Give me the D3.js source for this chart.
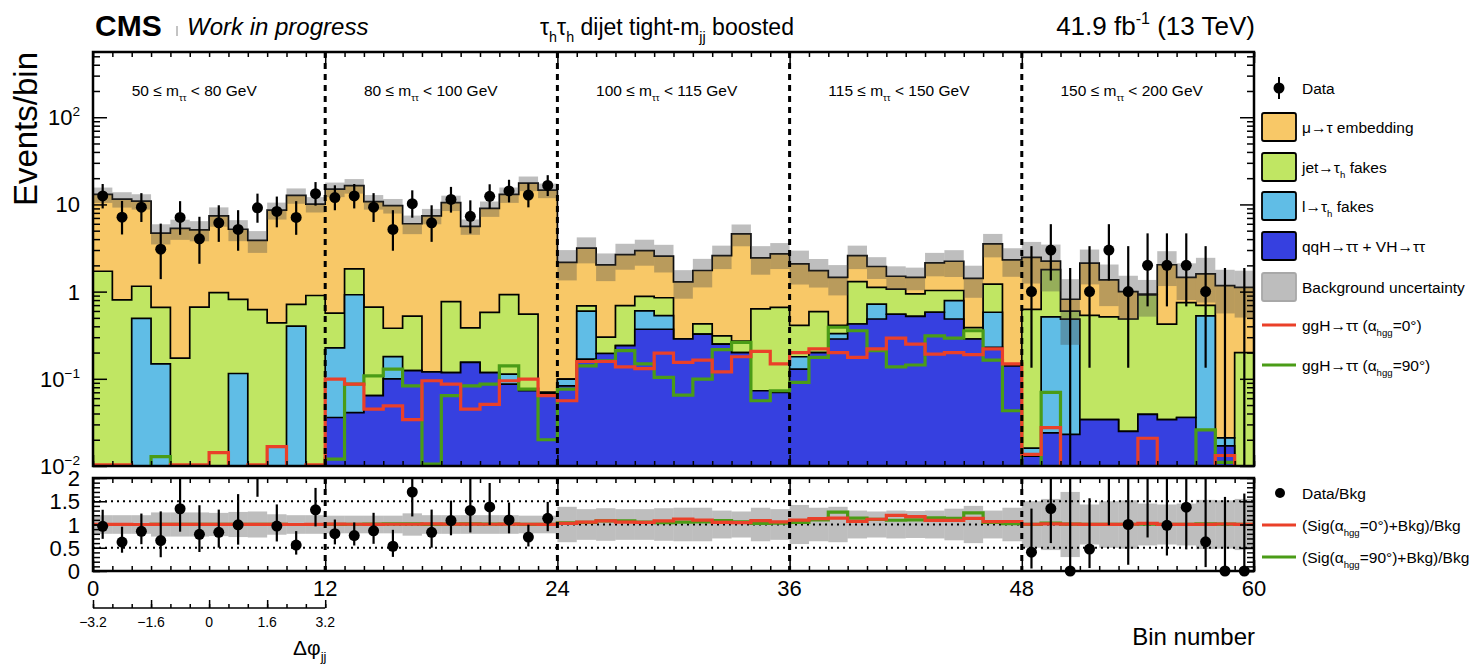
<!DOCTYPE html>
<html>
<head>
<meta charset="utf-8" />
<title>tau_h tau_h dijet tight-mjj boosted</title>
<style>
  body { margin: 0; background: #fff; }
  svg text { font-family: "Liberation Sans", Arial, Helvetica, sans-serif; fill: #000; }
</style>
</head>
<body>
<svg id="chart" width="1473" height="664"></svg>
<script src="https://d3js.org/d3.v7.min.js"></script>
<script>
//------------------------------------------------ data (60 bins) ------------------------------------------------//
var regionLabels = [["50", "80"], ["80", "100"], ["100", "115"], ["115", "150"], ["150", "200"]];
var xTickLabels = [0, 12, 24, 36, 48, 60];
var dphiLabels = ["\u22123.2", "\u22121.6", "0", "1.6", "3.2"];

var qqH = [0.003, 0.003, 0.003, 0.003, 0.003, 0.003, 0.003, 0.003, 0.003, 0.003, 0.003, 0.003,
  0.036, 0.041, 0.064, 0.10, 0.124, 0.12, 0.118, 0.154, 0.118, 0.087, 0.073, 0.067,
  0.083, 0.168, 0.195, 0.24, 0.37, 0.37, 0.286, 0.326, 0.25, 0.20, 0.073, 0.07,
  0.129, 0.20, 0.286, 0.425, 0.485, 0.55, 0.52, 0.58, 0.485, 0.286, 0.23, 0.141,
  0.013, 0.024, 0.023, 0.034, 0.034, 0.025, 0.039, 0.034, 0.036, 0.026, 0.017, 0.005];

var lFakes = [0, 0, 0.49, 0.145, 0, 0, 0, 0.112, 0, 0.014, 0.40, 0,
  0.19, 0.88, 0, 0.08, 0, 0, 0, 0, 0, 0.026, 0, 0.003,
  0.016, 0.43, 0, 0, 0.23, 0.16, 0, 0, 0, 0, 0, 0,
  0.05, 0, 0.044, 0, 0.235, 0, 0, 0, 0.305, 0, 0.35, 0,
  0.003, 0.49, 0.46, 0, 0, 0, 0, 0, 0, 0.50, 0.004, 0];

var jetFakes = [1.71, 0.80, 0.66, 0.51, 0.17, 0.66, 0.97, 0.70, 0.62, 0.42, 0.31, 0.90,
  0.34, 0.90, 0.60, 0.20, 0.40, 0, 0.65, 0.23, 0.46, 0.81, 0.48, 0,
  0, 0.09, 0.105, 0.45, 0.28, 0.32, 0, 0.10, 0.06, 0.07, 0.56, 0.59,
  0.23, 0.39, 0.08, 0.875, 0.40, 0.52, 0.42, 0.45, 0.24, 0.10, 0.64, 0,
  0.61, 1.27, 0.115, 0.50, 0.48, 0.46, 0.88, 0.39, 0.71, 0.17, 0, 0.195];

var embedding = [11.3, 10.7, 9.75, 4.04, 5.13, 4.44, 6.43, 4.38, 3.24, 8.16, 12.0, 9.2,
  14.4, 14.6, 10.1, 9.32, 5.48, 7.28, 9.73, 5.22, 8.42, 12.1, 17.0, 14.5,
  2.07, 2.46, 1.73, 1.97, 2.08, 1.70, 1.01, 1.32, 2.28, 4.33, 1.81, 2.05,
  1.67, 1.15, 1.05, 1.29, 0.82, 0.43, 0.52, 1.11, 1.20, 1.03, 2.31, 2.17,
  1.85, 0.45, 0.22, 1.59, 0.85, 0.515, 0.02, 1.61, 0.71, 0.90, 1.15, 0.92];

// relative background uncertainty per bin
var bkgUnc = [0.2, 0.2, 0.2, 0.26, 0.26, 0.26, 0.25, 0.27, 0.28, 0.22, 0.2, 0.2,
  0.19, 0.19, 0.19, 0.19, 0.24, 0.2, 0.2, 0.2, 0.2, 0.2, 0.19, 0.19,
  0.38, 0.33, 0.35, 0.33, 0.33, 0.35, 0.36, 0.36, 0.3, 0.28, 0.36, 0.33,
  0.42, 0.36, 0.38, 0.3, 0.28, 0.3, 0.29, 0.3, 0.34, 0.4, 0.3, 0.36,
  0.5, 0.55, 0.7, 0.43, 0.5, 0.52, 0.45, 0.43, 0.45, 0.53, 0.52, 0.55];

var ggH0 = [0.0103, 0.0103, 0.005, 0.005, 0.0103, 0.0103, 0.0142, 0.005, 0.0103, 0.0167, 0.005, 0.0103,
  0.099, 0.087, 0.045, 0.049, 0.034, 0.095, 0.087, 0.045, 0.051, 0.095, 0.099, 0.064,
  0.056, 0.158, 0.158, 0.137, 0.131, 0.197, 0.154, 0.164, 0.12, 0.179, 0.206, 0.148,
  0.20, 0.22, 0.20, 0.176, 0.22, 0.293, 0.25, 0.192, 0.20, 0.189, 0.22, 0.148,
  0.0136, 0.0276, 0.005, 0.005, 0.005, 0.005, 0.0208, 0.005, 0.005, 0.005, 0.0132, 0.005];

var ggH90 = [0.005, 0.005, 0.005, 0.0128, 0.005, 0.005, 0.005, 0.005, 0.005, 0.005, 0.005, 0.005,
  0.012, 0.087, 0.108, 0.129, 0.083, 0.0105, 0.064, 0.083, 0.087, 0.141, 0.076, 0.020,
  0.076, 0.141, 0.161, 0.21, 0.148, 0.104, 0.065, 0.099, 0.216, 0.262, 0.056, 0.073,
  0.091, 0.176, 0.39, 0.356, 0.21, 0.137, 0.144, 0.31, 0.293, 0.356, 0.164, 0.043,
  0.005, 0.07, 0.005, 0.005, 0.005, 0.005, 0.005, 0.005, 0.005, 0.026, 0.011, 0.005];

// observed events (bins 24-47 blinded)
var dataObs = [12.5, 7.15, 9.3, 3.07, 7.1, 4.03, 6.15, 5.16, 9.15, 8.3, 7.1, 13.3,
  12, 12.5, 9.3, 5.16, 10.2, 6.15, 11.4, 7.3, 12.4, 14.3, 12.8, 16.5,
  null, null, null, null, null, null, null, null, null, null, null, null,
  null, null, null, null, null, null, null, null, null, null, null, null,
  1, 3, 0, 1, 3, 1, 2, 2, 2, 1, 0, 0];

//------------------------------------------------ setup ------------------------------------------------//
var colors = {
  embedding: "#f8c867",
  jetFakes: "#c0e663",
  lFakes: "#60bde6",
  qqH: "#3640e0",
  ggH0: "#ea4029",
  ggH90: "#4a9c17",
  band: "rgba(74,74,74,0.36)"
};

var svg = d3.select("#chart");
var x = d3.scaleLinear().domain([0, 60]).range([93, 1254]);
var y = d3.scaleLog().domain([0.01, 560]).range([466, 52]);
var yr = d3.scaleLinear().domain([0, 2]).range([571, 478]);
var bins = d3.range(60);

var rows = bins.map(function(i) {
  return {qqH: qqH[i], lFakes: lFakes[i], jetFakes: jetFakes[i], embedding: embedding[i]};
});
var keys = ["qqH", "lFakes", "jetFakes", "embedding"];
var series = d3.stack().keys(keys)(rows);
var total = bins.map(function(i) { return series[3][i][1]; });

function steps(vals) {
  var pts = [];
  vals.forEach(function(v, i) { pts.push([i, v]); pts.push([i + 1, v]); });
  return pts;
}
function ly(v) { return y(Math.max(v, 1e-5)); }

var defs = svg.append("defs");
defs.append("clipPath").attr("id", "clipMain").append("rect")
  .attr("x", x(0)).attr("y", y.range()[1]).attr("width", x(60) - x(0)).attr("height", y.range()[0] - y.range()[1]);
defs.append("clipPath").attr("id", "clipRatio").append("rect")
  .attr("x", x(0)).attr("y", yr(2)).attr("width", x(60) - x(0)).attr("height", yr(0) - yr(2));
defs.append("clipPath").attr("id", "clipRatioPts").append("rect")
  .attr("x", x(0)).attr("y", yr(2)).attr("width", x(60) - x(0)).attr("height", yr(0) - yr(2) + 8);

// rich text helper: parts = [[text, mode]] mode 0 normal, 1 sub, 2 sup
function rich(t, parts, size) {
  var cur = 0;
  parts.forEach(function(p) {
    var shift = p[1] === 1 ? 0.3 : (p[1] === 2 ? -0.42 : 0);
    var ts = t.append("tspan").text(p[0]).attr("dy", ((shift - cur) * size).toFixed(1));
    if (p[1]) ts.attr("font-size", (size * 0.62).toFixed(1));
    cur = shift;
  });
  return t;
}

//------------------------------------------------ main panel ------------------------------------------------//
var main = svg.append("g").attr("clip-path", "url(#clipMain)");
var area = d3.area().x(function(d) { return x(d[0]); })
  .y0(y.range()[0] + 6).y1(function(d) { return ly(d[1]); });

// stacked histograms, drawn from total down
for (var k = 3; k >= 0; k--) {
  main.append("path")
    .attr("d", area(steps(series[k].map(function(s) { return s[1]; }))))
    .attr("fill", colors[keys[k]])
    .attr("stroke", "#000").attr("stroke-width", 1.7);
}

// background uncertainty band
main.selectAll(".unc").data(bins).enter().append("rect")
  .attr("x", function(i) { return x(i); })
  .attr("width", x(1) - x(0))
  .attr("y", function(i) { return ly(total[i] * (1 + bkgUnc[i])); })
  .attr("height", function(i) { return ly(total[i] * (1 - bkgUnc[i])) - ly(total[i] * (1 + bkgUnc[i])); })
  .attr("fill", colors.band);

var line = d3.line().x(function(d) { return x(d[0]); }).y(function(d) { return ly(d[1]); });
main.append("path").attr("d", line(steps(ggH90))).attr("fill", "none")
  .attr("stroke", colors.ggH90).attr("stroke-width", 3.2);
main.append("path").attr("d", line(steps(ggH0))).attr("fill", "none")
  .attr("stroke", colors.ggH0).attr("stroke-width", 3.2);

// data points with Poisson intervals
function errLo(n) { return n >= 1 ? n - Math.sqrt(n - 0.25) : 0; }
function errHi(n) { return n + 1 + Math.sqrt(n + 0.75); }
var dataBins = bins.filter(function(i) { return dataObs[i] !== null; });

main.selectAll(".derr").data(dataBins).enter().append("line")
  .attr("x1", function(i) { return x(i + 0.5); }).attr("x2", function(i) { return x(i + 0.5); })
  .attr("y1", function(i) { return ly(errLo(dataObs[i])); })
  .attr("y2", function(i) { return ly(errHi(dataObs[i])); })
  .attr("stroke", "#000").attr("stroke-width", 2.2);
main.selectAll(".dpt").data(dataBins.filter(function(i) { return dataObs[i] > 0; })).enter().append("circle")
  .attr("cx", function(i) { return x(i + 0.5); })
  .attr("cy", function(i) { return ly(dataObs[i]); })
  .attr("r", 5.5).attr("fill", "#000");

//------------------------------------------------ ratio panel ------------------------------------------------//
var ratio = svg.append("g").attr("clip-path", "url(#clipRatio)");
ratio.selectAll(".runc").data(bins).enter().append("rect")
  .attr("x", function(i) { return x(i); })
  .attr("width", x(1) - x(0))
  .attr("y", function(i) { return yr(1 + bkgUnc[i]); })
  .attr("height", function(i) { return yr(1 - bkgUnc[i]) - yr(1 + bkgUnc[i]); })
  .attr("fill", colors.band);

[0.5, 1, 1.5].forEach(function(v) {
  ratio.append("line").attr("x1", x(0)).attr("x2", x(60))
    .attr("y1", yr(v)).attr("y2", yr(v))
    .attr("stroke", "#000").attr("stroke-width", 2).attr("stroke-dasharray", "2,4");
});

var rline = d3.line().x(function(d) { return x(d[0]); }).y(function(d) { return yr(d[1]); });
ratio.append("path").attr("d", rline(steps(bins.map(function(i) { return (ggH90[i] + total[i]) / total[i]; }))))
  .attr("fill", "none").attr("stroke", colors.ggH90).attr("stroke-width", 3.2);
ratio.append("path").attr("d", rline(steps(bins.map(function(i) { return (ggH0[i] + total[i]) / total[i]; }))))
  .attr("fill", "none").attr("stroke", colors.ggH0).attr("stroke-width", 3.2);

var ratioPts = svg.append("g").attr("clip-path", "url(#clipRatioPts)");
ratioPts.selectAll(".rerr").data(dataBins).enter().append("line")
  .attr("x1", function(i) { return x(i + 0.5); }).attr("x2", function(i) { return x(i + 0.5); })
  .attr("y1", function(i) { return yr(errLo(dataObs[i]) / total[i]); })
  .attr("y2", function(i) { return yr(Math.min(errHi(dataObs[i]) / total[i], 2.2)); })
  .attr("stroke", "#000").attr("stroke-width", 2.2);
ratioPts.selectAll(".rpt").data(dataBins.filter(function(i) { return dataObs[i] / total[i] <= 2; })).enter().append("circle")
  .attr("cx", function(i) { return x(i + 0.5); })
  .attr("cy", function(i) { return yr(dataObs[i] / total[i]); })
  .attr("r", 5.5).attr("fill", "#000");

//------------------------------------------------ region separators ------------------------------------------------//
[12, 24, 36, 48].forEach(function(b) {
  [[y.range()[1], y.range()[0]], [yr(2), yr(0)]].forEach(function(r) {
    svg.append("line").attr("x1", x(b)).attr("x2", x(b)).attr("y1", r[0]).attr("y2", r[1])
      .attr("stroke", "#000").attr("stroke-width", 3).attr("stroke-dasharray", "6,5");
  });
});

regionLabels.forEach(function(r, k) {
  rich(svg.append("text").attr("x", x(12 * k + 2)).attr("y", 96).attr("font-size", 15.5),
    [[r[0] + " \u2264 m", 0], ["\u03c4\u03c4", 1], [" < " + r[1] + " GeV", 0]], 15.5);
});

//------------------------------------------------ axes ------------------------------------------------//
function ticks(axis, tx, ty, vals, len) {
  svg.append("g").attr("transform", "translate(" + tx + "," + ty + ")")
    .call(axis.tickValues(vals).tickSize(len).tickFormat(""))
    .call(function(g) { g.select(".domain").remove(); g.selectAll("line").attr("stroke-width", 1.5); });
}
var binEdges = d3.range(0, 61);
var majorX = [0, 12, 24, 36, 48, 60];
ticks(d3.axisTop(x), 0, y.range()[0], binEdges, 5);
ticks(d3.axisTop(x), 0, y.range()[0], majorX, 11);
ticks(d3.axisBottom(x), 0, y.range()[1], binEdges, 5);
ticks(d3.axisBottom(x), 0, y.range()[1], majorX, 11);
ticks(d3.axisTop(x), 0, yr(0), binEdges, 5);
ticks(d3.axisTop(x), 0, yr(0), majorX, 11);
ticks(d3.axisBottom(x), 0, yr(2), binEdges, 5);
ticks(d3.axisBottom(x), 0, yr(2), majorX, 11);

var decades = [0.01, 0.1, 1, 10, 100];
var minorLog = [];
decades.forEach(function(d) { for (var m = 2; m <= 9; m++) if (d * m <= 560) minorLog.push(d * m); });
ticks(d3.axisRight(y), x(0), 0, decades, 14);
ticks(d3.axisRight(y), x(0), 0, minorLog, 7);
ticks(d3.axisLeft(y), x(60), 0, decades, 14);
ticks(d3.axisLeft(y), x(60), 0, minorLog, 7);

var ratioMajor = [0, 0.5, 1, 1.5, 2];
var ratioMinor = d3.range(0, 2.01, 0.1);
ticks(d3.axisRight(yr), x(0), 0, ratioMajor, 14);
ticks(d3.axisRight(yr), x(0), 0, ratioMinor, 7);
ticks(d3.axisLeft(yr), x(60), 0, ratioMajor, 14);
ticks(d3.axisLeft(yr), x(60), 0, ratioMinor, 7);

// frames
svg.append("rect").attr("x", x(0)).attr("y", y.range()[1]).attr("width", x(60) - x(0))
  .attr("height", y.range()[0] - y.range()[1]).attr("fill", "none").attr("stroke", "#000").attr("stroke-width", 2.5);
svg.append("rect").attr("x", x(0)).attr("y", yr(2)).attr("width", x(60) - x(0))
  .attr("height", yr(0) - yr(2)).attr("fill", "none").attr("stroke", "#000").attr("stroke-width", 2.5);

// y labels main
var decadeLabels = [[100, [["10", 0], ["2", 2]]], [10, [["10", 0]]], [1, [["1", 0]]],
  [0.1, [["10", 0], ["\u22121", 2]]], [0.01, [["10", 0], ["\u22122", 2]]]];
decadeLabels.forEach(function(d) {
  rich(svg.append("text").attr("x", 80).attr("y", y(d[0]) + 8).attr("text-anchor", "end").attr("font-size", 22),
    d[1], 22);
});
["0", "0.5", "1", "1.5", "2"].forEach(function(l, i) {
  svg.append("text").attr("x", 80).attr("y", yr(ratioMajor[i]) + 8).attr("text-anchor", "end")
    .attr("font-size", 22).text(l);
});
xTickLabels.forEach(function(v) {
  svg.append("text").attr("x", x(v)).attr("y", 596).attr("text-anchor", "middle").attr("font-size", 22).text(v);
});

svg.append("text").attr("transform", "translate(37,52) rotate(-90)").attr("text-anchor", "end")
  .attr("font-size", 33).text("Events/bin");
svg.append("text").attr("x", 1255).attr("y", 645).attr("text-anchor", "end").attr("font-size", 24).text("Bin number");

// delta phi axis under the first region
var dphi = d3.scaleLinear().domain([-3.2, 3.2]).range([x(0), x(12)]);
svg.append("line").attr("x1", x(0)).attr("x2", x(12)).attr("y1", 608).attr("y2", 608)
  .attr("stroke", "#000").attr("stroke-width", 1.6);
ticks(d3.axisTop(dphi), 0, 608, d3.range(0, 13).map(function(i) { return -3.2 + i * 6.4 / 12; }), 4);
ticks(d3.axisTop(dphi), 0, 608, [-3.2, -1.6, 0, 1.6, 3.2], 8);
dphiLabels.forEach(function(l, i) {
  svg.append("text").attr("x", dphi(-3.2 + i * 1.6)).attr("y", 627).attr("text-anchor", "middle")
    .attr("font-size", 14).text(l);
});
rich(svg.append("text").attr("x", 293).attr("y", 655).attr("font-size", 21), [["\u0394\u03c6", 0], ["jj", 1]], 21);

//------------------------------------------------ header ------------------------------------------------//
svg.append("text").attr("x", 95).attr("y", 36).attr("font-size", 30).attr("font-weight", "bold").text("CMS");
svg.append("line").attr("x1", 177).attr("x2", 177).attr("y1", 26).attr("y2", 36).attr("stroke", "#888").attr("stroke-width", 1);
svg.append("text").attr("x", 187).attr("y", 35).attr("font-size", 24).attr("font-style", "italic").text("Work in progress");
rich(svg.append("text").attr("x", 540).attr("y", 35).attr("font-size", 23),
  [["\u03c4", 0], ["h", 1], ["\u03c4", 0], ["h", 1], [" dijet tight-m", 0], ["jj", 1], [" boosted", 0]], 23);
rich(svg.append("text").attr("x", 1255).attr("y", 35).attr("font-size", 26).attr("text-anchor", "end"),
  [["41.9 fb", 0], ["-1", 2], [" (13 TeV)", 0]], 26);

//------------------------------------------------ legend ------------------------------------------------//
var lx = 1262, lw = 34, ltx = 1302;
var leg = svg.append("g").attr("font-size", 15.5);
leg.append("line").attr("x1", lx + lw / 2).attr("x2", lx + lw / 2).attr("y1", 77).attr("y2", 99).attr("stroke", "#000").attr("stroke-width", 2);
leg.append("circle").attr("cx", lx + lw / 2).attr("cy", 88).attr("r", 5.5).attr("fill", "#000");
rich(leg.append("text").attr("x", ltx).attr("y", 94), [["Data", 0]], 15.5);

var boxes = [
  [127, colors.embedding, "#000", [["\u03bc\u2192\u03c4 embedding", 0]]],
  [167, colors.jetFakes, "#000", [["jet\u2192\u03c4", 0], ["h", 1], [" fakes", 0]]],
  [206, colors.lFakes, "#000", [["l\u2192\u03c4", 0], ["h", 1], [" fakes", 0]]],
  [246, colors.qqH, "#000", [["qqH\u2192\u03c4\u03c4 + VH\u2192\u03c4\u03c4", 0]]],
  [287, "#bdbdbd", "#a8a8a8", [["Background uncertainty", 0]]]
];
boxes.forEach(function(b) {
  leg.append("rect").attr("x", lx).attr("y", b[0] - 14).attr("width", lw).attr("height", 28).attr("rx", 2)
    .attr("fill", b[1]).attr("stroke", b[2]).attr("stroke-width", 1.8);
  rich(leg.append("text").attr("x", ltx).attr("y", b[0] + 6), b[3], 15.5);
});
[[325, colors.ggH0, "0\u00b0)"], [365, colors.ggH90, "90\u00b0)"]].forEach(function(s) {
  leg.append("line").attr("x1", lx).attr("x2", lx + lw).attr("y1", s[0]).attr("y2", s[0])
    .attr("stroke", s[1]).attr("stroke-width", 3.2);
  rich(leg.append("text").attr("x", ltx).attr("y", s[0] + 6),
    [["ggH\u2192\u03c4\u03c4 (\u03b1", 0], ["hgg", 1], ["=" + s[2], 0]], 15.5);
});

// ratio legend
leg.append("circle").attr("cx", lx + 18).attr("cy", 493).attr("r", 5).attr("fill", "#000");
rich(leg.append("text").attr("x", ltx).attr("y", 499), [["Data/Bkg", 0]], 15.5);
[[525, colors.ggH0, "0\u00b0)+Bkg)/Bkg"], [557, colors.ggH90, "90\u00b0)+Bkg)/Bkg"]].forEach(function(s) {
  leg.append("line").attr("x1", lx).attr("x2", lx + lw).attr("y1", s[0]).attr("y2", s[0])
    .attr("stroke", s[1]).attr("stroke-width", 3.2);
  rich(leg.append("text").attr("x", ltx).attr("y", s[0] + 6),
    [["(Sig(\u03b1", 0], ["hgg", 1], ["=" + s[2], 0]], 15.5);
});
</script>
</body>
</html>
